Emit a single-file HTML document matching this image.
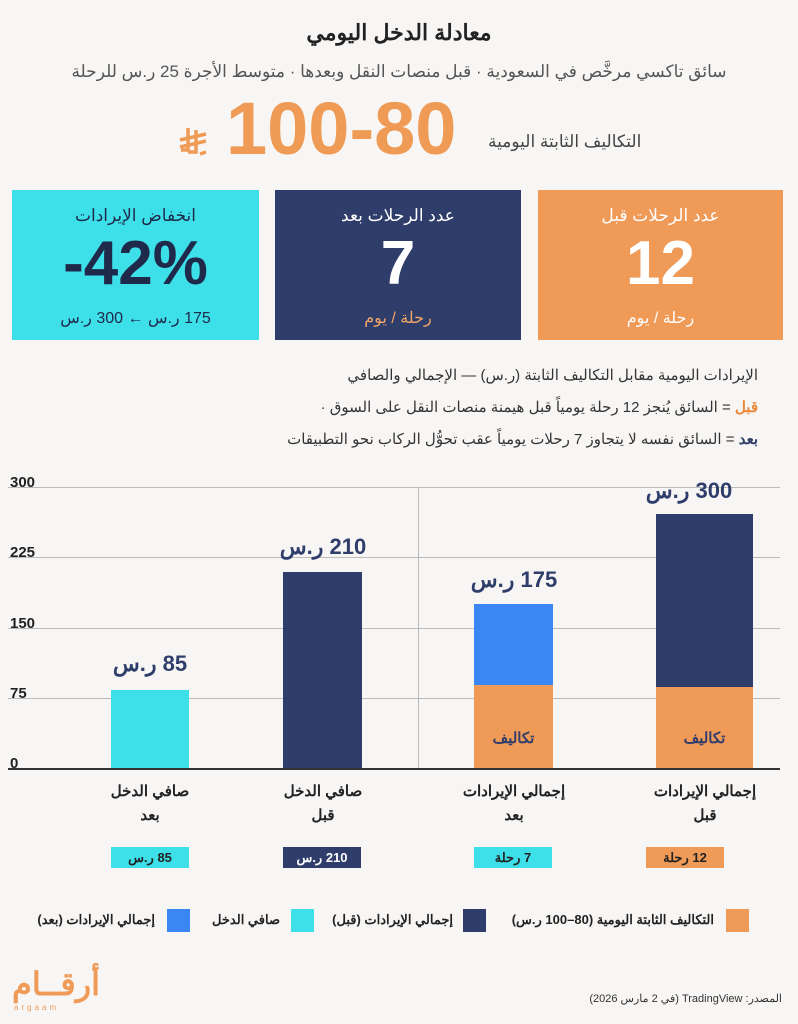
<!DOCTYPE html>
<html><head><meta charset="utf-8"><style>
body{margin:0;width:798px;height:1024px;background:#f8f6f4;position:relative;overflow:hidden;font-family:"Liberation Sans","Noto Sans CJK SC",sans-serif;color:#222}
.a{position:absolute;white-space:nowrap}
.c{text-align:center}
.ib{display:inline-block}
.card{position:absolute;top:190px;height:150px;color:#fff;text-align:center}
.card .t{position:absolute;top:16px;width:100%;font-size:17px}
.card .n{position:absolute;top:38px;width:100%;font-size:62px;font-weight:bold}
.card .s{position:absolute;top:118px;width:100%;font-size:16px}
.g{position:absolute;left:8px;width:772px;height:1px;background:#bbb}
.yl{position:absolute;left:10px;font-size:15px;font-weight:bold}
.bar{position:absolute}
.vl{position:absolute;font-size:22px;font-weight:bold;color:#2f3d6b;text-align:center;width:140px;direction:ltr}
.cat{position:absolute;top:780px;width:140px;text-align:center;font-size:15px;font-weight:bold;line-height:24px}
.tag{position:absolute;top:847px;height:21px;width:78px;text-align:center;font-size:13px;font-weight:bold;line-height:21px;direction:ltr}
.lg{position:absolute;top:909px;width:23px;height:23px}
.lt{position:absolute;top:912px;font-size:13px;font-weight:bold}
</style></head><body>
<div class="a c" style="left:0;width:798px;top:20px;font-size:22px;font-weight:bold">معادلة الدخل اليومي</div>
<div class="a c" style="left:0;width:798px;top:62px;font-size:17px;color:#555">سائق تاكسي مرخَّص في السعودية · قبل منصات النقل وبعدها · متوسط الأجرة 25 ر.س للرحلة</div>
<div class="a" style="left:226px;top:86px;font-size:74px;font-weight:bold;color:#ef9a55;direction:ltr">100-80</div>
<svg class="a" style="left:178px;top:126px" width="30" height="30" viewBox="0 0 30 30"><g stroke="#ef9a55" stroke-width="3.5" fill="none"><path d="M10 2 V24 H3"/><path d="M18 4 V26 H10"/><path d="M2 14 L28 8"/><path d="M2 21 L28 15"/><path d="M22 28 L28 26"/></g></svg>
<div class="a" style="left:488px;top:132px;font-size:17px;color:#444">التكاليف الثابتة اليومية</div>

<div class="card" style="left:538px;width:245px;background:#f09a58"><div class="t">عدد الرحلات  قبل</div><div class="n">12</div><div class="s">رحلة / يوم</div></div>
<div class="card" style="left:275px;width:246px;background:#2f3d6b"><div class="t">عدد الرحلات  بعد</div><div class="n">7</div><div class="s" style="color:#f3a666">رحلة / يوم</div></div>
<div class="card" style="left:12px;width:247px;background:#3ddfe9;color:#1f2a4a"><div class="t">انخفاض الإيرادات</div><div class="n" style="direction:ltr">-42%</div><div class="s" style="direction:ltr"><span class="ib">ر.س</span> <span class="ib">300</span> ← <span class="ib">ر.س</span> <span class="ib">175</span></div></div>

<div class="a" style="right:40px;top:366px;font-size:15px;color:#333;direction:rtl">الإيرادات اليومية مقابل التكاليف الثابتة (ر.س) — الإجمالي والصافي</div>
<div class="a" style="right:40px;top:398px;font-size:15px;color:#333;direction:rtl"><b style="color:#e8893c">قبل</b> = السائق يُنجز 12 رحلة يومياً قبل هيمنة منصات النقل على السوق ·</div>
<div class="a" style="right:40px;top:430px;font-size:15px;color:#333;direction:rtl"><b style="color:#2f3d6b">بعد</b> = السائق نفسه لا يتجاوز 7 رحلات يومياً عقب تحوُّل الركاب نحو التطبيقات</div>

<div class="g" style="top:487px"></div><div class="g" style="top:557px"></div><div class="g" style="top:628px"></div><div class="g" style="top:698px"></div><div class="g" style="top:768px;background:#333;height:2px"></div>
<div class="yl" style="top:474px">300</div><div class="yl" style="top:544px">225</div><div class="yl" style="top:615px">150</div><div class="yl" style="top:685px">75</div><div class="yl" style="top:755px">0</div>
<div class="a" style="left:418px;top:487px;width:1px;height:281px;background:#bbb"></div>

<div class="bar" style="left:111px;top:690px;width:78px;height:78px;background:#3ddfe9"></div>
<div class="bar" style="left:283px;top:572px;width:79px;height:196px;background:#2f3d6b"></div>
<div class="bar" style="left:474px;top:604px;width:79px;height:81px;background:#3a86f2"></div>
<div class="bar" style="left:474px;top:685px;width:79px;height:83px;background:#f09a58"></div>
<div class="bar" style="left:656px;top:514px;width:97px;height:173px;background:#2f3d6b"></div>
<div class="bar" style="left:656px;top:687px;width:97px;height:81px;background:#f09a58"></div>
<div class="a c" style="left:474px;width:79px;top:729px;font-size:15px;font-weight:bold;color:#2f3d6b">تكاليف</div>
<div class="a c" style="left:656px;width:97px;top:729px;font-size:15px;font-weight:bold;color:#2f3d6b">تكاليف</div>

<div class="vl" style="left:80px;top:651px"><span class="ib">ر.س</span> <span class="ib">85</span></div>
<div class="vl" style="left:253px;top:534px"><span class="ib">ر.س</span> <span class="ib">210</span></div>
<div class="vl" style="left:444px;top:567px"><span class="ib">ر.س</span> <span class="ib">175</span></div>
<div class="vl" style="left:619px;top:478px"><span class="ib">ر.س</span> <span class="ib">300</span></div>

<div class="cat" style="left:80px">صافي الدخل<br>بعد</div>
<div class="cat" style="left:253px">صافي الدخل<br>قبل</div>
<div class="cat" style="left:444px">إجمالي الإيرادات<br>بعد</div>
<div class="cat" style="left:635px">إجمالي الإيرادات<br>قبل</div>
<div class="tag" style="left:111px;background:#3ddfe9"><span class="ib">ر.س</span> <span class="ib">85</span></div>
<div class="tag" style="left:283px;background:#2f3d6b;color:#fff"><span class="ib">ر.س</span> <span class="ib">210</span></div>
<div class="tag" style="left:474px;background:#3ddfe9"><span class="ib">رحلة</span> <span class="ib">7</span></div>
<div class="tag" style="left:646px;background:#f09a58"><span class="ib">رحلة</span> <span class="ib">12</span></div>

<div class="lg" style="left:726px;background:#f09a58"></div><div class="lt" style="right:84px">التكاليف الثابتة اليومية (80–100 ر.س)</div>
<div class="lg" style="left:463px;background:#2f3d6b"></div><div class="lt" style="right:345px">إجمالي الإيرادات (قبل)</div>
<div class="lg" style="left:291px;background:#3ddfe9"></div><div class="lt" style="right:518px">صافي الدخل</div>
<div class="lg" style="left:167px;background:#3a86f2"></div><div class="lt" style="right:643px">إجمالي الإيرادات (بعد)</div>

<div class="a" style="left:12px;top:965px;font-size:32px;font-weight:bold;color:#f09a58">أرقــام</div>
<div class="a" style="left:14px;top:1003px;font-size:8px;color:#f09a58;letter-spacing:3px">argaam</div>
<div class="a" style="right:16px;top:992px;font-size:11px;color:#333;direction:rtl">المصدر: TradingView (في 2 مارس 2026)</div>
</body></html>
